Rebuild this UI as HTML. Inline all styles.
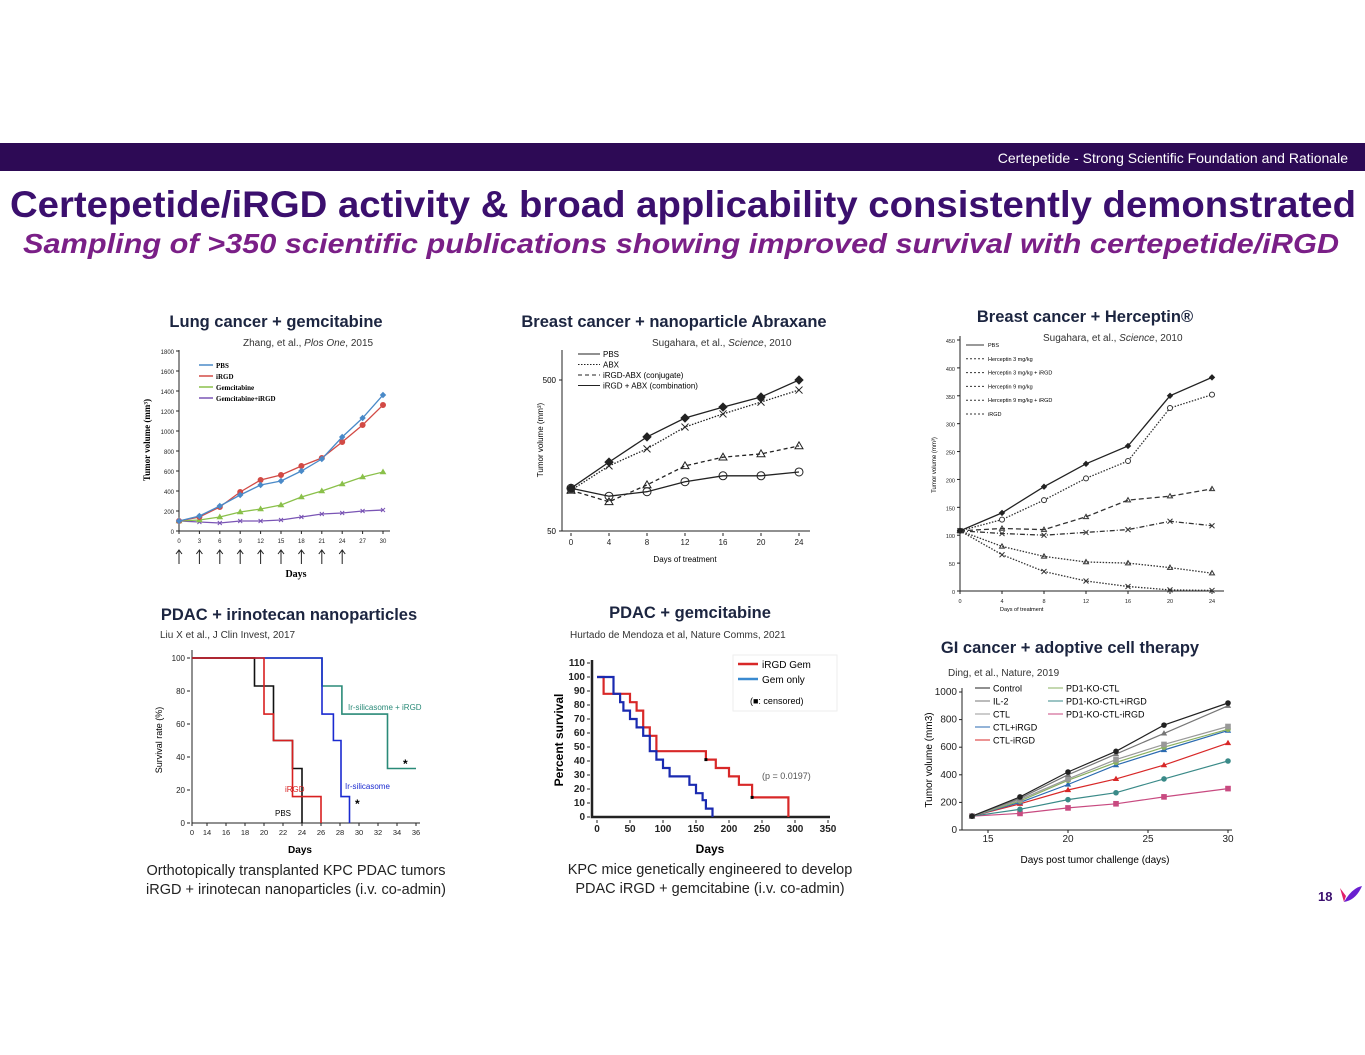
<!DOCTYPE html>
<html><head><meta charset="utf-8"><style>
html,body{margin:0;padding:0;background:#fff;}
svg{display:block;font-family:"Liberation Sans",Arial,sans-serif;}
.t{font-weight:bold;font-size:16.5px;fill:#1c2540;text-anchor:middle;font-family:"Liberation Sans",sans-serif;}
.c{font-size:10px;fill:#333;}
.cap{font-size:14.5px;fill:#222;text-anchor:middle;}
</style></head><body>
<svg id="s" width="1365" height="1055" viewBox="0 0 1365 1055" xmlns="http://www.w3.org/2000/svg">
<rect x="0" y="143" width="1365" height="28" fill="#2d0a55"/>
<text x="1348" y="163" font-size="14" fill="#fff" text-anchor="end">Certepetide - Strong Scientific Foundation and Rationale</text>
<text x="683" y="217" font-size="37" font-weight="bold" fill="#3b0f6e" text-anchor="middle" textLength="1346" lengthAdjust="spacingAndGlyphs">Certepetide/iRGD activity &amp; broad applicability consistently demonstrated</text>
<text x="681" y="253" font-size="28" font-weight="bold" font-style="italic" fill="#7a1f87" text-anchor="middle" textLength="1316" lengthAdjust="spacingAndGlyphs">Sampling of &gt;350 scientific publications showing improved survival with certepetide/iRGD</text>

<text class="t" x="276" y="327">Lung cancer + gemcitabine</text>
<text class="c" x="243" y="346">Zhang, et al., <tspan font-style="italic">Plos One</tspan>, 2015</text>
<text class="t" x="674" y="327">Breast cancer + nanoparticle Abraxane</text>
<text class="c" x="652" y="346">Sugahara, et al., <tspan font-style="italic">Science</tspan>, 2010</text>
<text class="t" x="1085" y="322">Breast cancer + Herceptin®</text>
<text class="c" x="1043" y="341">Sugahara, et al., <tspan font-style="italic">Science</tspan>, 2010</text>
<text class="t" x="289" y="620">PDAC + irinotecan nanoparticles</text>
<text class="c" x="160" y="638">Liu X et al., J Clin Invest, 2017</text>
<text class="t" x="690" y="618">PDAC + gemcitabine</text>
<text class="c" x="570" y="638">Hurtado de Mendoza et al, Nature Comms, 2021</text>
<text class="t" x="1070" y="653">GI cancer + adoptive cell therapy</text>
<text class="c" x="948" y="676">Ding, et al., Nature, 2019</text>

<text class="cap" x="296" y="875">Orthotopically transplanted KPC PDAC tumors</text>
<text class="cap" x="296" y="894">iRGD + irinotecan nanoparticles (i.v. co-admin)</text>
<text class="cap" x="710" y="874">KPC mice genetically engineered to develop</text>
<text class="cap" x="710" y="893">PDAC iRGD + gemcitabine (i.v. co-admin)</text>

<text x="1318" y="901" font-size="13" font-weight="bold" fill="#3b0f6e">18</text>
<g><path d="M1340 888 L1346 896 L1344 902 Z" fill="#e0206a"/><path d="M1344 902 Q1352 888 1362 886 Q1356 900 1344 902 Z" fill="#6a1fd0"/></g>
<g id="g"></g>
</svg>
<script>
// ---------- data ----------
const lungDays=[0,3,6,9,12,15,18,21,24,27,30];
const lungPBS=[100,150,250,360,460,500,600,720,940,1130,1360];
const lungIRGD=[100,140,240,390,510,560,650,730,890,1060,1260];
const lungGem=[100,110,140,190,220,260,340,400,470,540,590];
const lungGemIRGD=[100,90,80,100,100,110,140,170,180,200,210];
const lungYTicks=[0,200,400,600,800,1000,1200,1400,1600,1800];
const lungXTicks=[0,3,6,9,12,15,18,21,24,27,30];

const abxDays=[0,4,8,12,16,20,24];
const abxPBS=[96,143,210,280,331,386,500];
const abxABX=[93,135,175,244,298,357,429];
const abxConj=[93,78,101,135,154,162,183];
const abxComb=[96,85,91,106,116,116,123];
const abxXTicks=[0,4,8,12,16,20,24];

const herDays=[0,4,8,12,16,20,24];
const herPBS=[108,140,187,228,260,350,383];
const herIRGD=[108,128,163,202,233,328,352];
const herH3=[108,80,62,52,50,42,32];
const herH3I=[108,65,35,18,8,2,1];
const herH9=[108,112,110,133,163,170,183];
const herH9I=[108,103,100,105,110,125,117];
const herYTicks=[0,50,100,150,200,250,300,350,400,450];

const irDaysPBS=[0,19,19,21,21,23,23,24,24];
const irPBS=[100,100,83,83,50,50,33,33,0];
const irDaysRed=[0,20,20,21,21,23,23,26,26];
const irRed=[100,100,66,66,50,50,16,16,0];
const irDaysBlue=[0,26.1,26.1,27.3,27.3,28.1,28.1,29,29];
const irBlue=[100,100,66,66,50,50,16,16,0];
const irDaysGreen=[0,26.1,26.1,28.2,28.2,33,33,36];
const irGreen=[100,100,83,83,66,66,33,33];
const irXTicks=[14,16,18,20,22,24,26,28,30,32,34,36];
const irYTicks=[0,20,40,60,80,100];

const gemDaysRed=[0,10,50,60,70,80,90,165,180,200,215,235,290];
const gemRed=[100,88,82,76,64,58,47,41,35,29,23,14,0];
const gemDaysBlue=[0,25,35,40,50,60,70,80,90,100,110,140,150,160,165,175];
const gemBlue=[100,88,82,76,70,64,58,47,41,35,29,23,17,12,6,0];
const gemXTicks=[0,50,100,150,200,250,300,350];
const gemYTicks=[0,10,20,30,40,50,60,70,80,90,100,110];

const giDays=[14,17,20,23,26,30];
const giControl=[100,240,420,570,760,920];
const giIL2=[100,230,400,550,700,900];
const giCTL=[100,220,370,510,620,750];
const giPD1=[100,210,360,490,600,730];
const giCTLi=[100,200,330,470,580,720];
const giCTLr=[100,190,290,370,470,630];
const giPD1i=[100,150,220,270,370,500];
const giPD1r=[100,120,160,190,240,300];
const giXTicks=[15,20,25,30];
const giYTicks=[0,200,400,600,800,1000];

// ---------- helpers ----------
const NS="http://www.w3.org/2000/svg";
const G=document.getElementById('g');
function mk(tag,a,p){const e=document.createElementNS(NS,tag);for(const k in a)e.setAttribute(k,a[k]);(p||G).appendChild(e);return e;}
function lin(d0,d1,r0,r1){return v=>r0+(v-d0)*(r1-r0)/(d1-d0);}
function lg(d0,d1,r0,r1){return v=>r0+(Math.log10(v)-Math.log10(d0))*(r1-r0)/(Math.log10(d1)-Math.log10(d0));}
function line(xs,ys,X,Y,col,name,dash,w){
  const d=xs.map((x,i)=>(i?'L':'M')+X(x).toFixed(1)+' '+Y(ys[i]).toFixed(1)).join(' ');
  const p=mk('path',{d:d,fill:'none',stroke:col,'stroke-width':w||1.3,'stroke-dasharray':dash||'none'});
  
  
  return p;
}
function pts(xs,ys,X,Y,col,name,shape,r,fill){
  xs.forEach((x,i)=>{
    let e;
    if(shape==='s') e=mk('rect',{x:X(x)-r,y:Y(ys[i])-r,width:2*r,height:2*r,fill:fill||col,stroke:col});
    else if(shape==='d') e=mk('path',{d:`M${X(x)} ${Y(ys[i])-r}l${r} ${r}l${-r} ${r}l${-r} ${-r}z`,fill:fill||col,stroke:col});
    else if(shape==='t') e=mk('path',{d:`M${X(x)} ${Y(ys[i])-r}l${r} ${1.7*r}h${-2*r}z`,fill:fill||col,stroke:col});
    else if(shape==='x') e=mk('path',{d:`M${X(x)-r} ${Y(ys[i])-r}l${2*r} ${2*r}M${X(x)+r} ${Y(ys[i])-r}l${-2*r} ${2*r}`,stroke:col,fill:'none'});
    else e=mk('circle',{cx:X(x),cy:Y(ys[i]),r:r,fill:fill||col,stroke:col});
    
    
  });
}
function txt(x,y,s,a){const e=mk('text',Object.assign({x:x,y:y},a||{}));e.textContent=s;return e;}
function axes(x0,y0,x1,y1,name){
  const e=mk('path',{d:`M${x0} ${y1}V${y0}H${x1}`,fill:'none',stroke:'#222','stroke-width':1});
  
  
}
function xt(ticks,X,y,cls,fs,lab){ticks.forEach(t=>{mk('line',{x1:X(t),x2:X(t),y1:y,y2:y+3,stroke:'#222'});const e=txt(X(t),y+12,lab?lab(t):t,{'font-size':fs,'text-anchor':'middle',fill:'#222'});});}
function yt(ticks,Y,x,fs){ticks.forEach(t=>{mk('line',{x1:x-3,x2:x,y1:Y(t),y2:Y(t),stroke:'#222'});const e=txt(x-5,Y(t)+3,t,{'font-size':fs,'text-anchor':'end',fill:'#222'});});}

// ---------- 1 Lung ----------
{const X=lin(0,30,179,383),Y=lin(0,1800,531,351);
axes(179,531,390,350,'lung-axes');
yt(lungYTicks,Y,179,6);xt(lungXTicks,X,531,'',6);
txt(150,440,'Tumor volume (mm³)',{'font-size':9,'font-weight':'bold','font-family':'Liberation Serif',transform:'rotate(-90 150 440)','text-anchor':'middle'});
[0,3,6,9,12,15,18,21,24].forEach(d=>{mk('path',{d:`M${X(d)} 564V550M${X(d)-3} 554L${X(d)} 550L${X(d)+3} 554`,stroke:'#222',fill:'none'});});
txt(296,577,'Days',{'font-size':10,'font-weight':'bold','font-family':'Liberation Serif','text-anchor':'middle'});
line(lungDays,lungGemIRGD,X,Y,'#7a55b5','lung-gem-irgd-line');pts(lungDays,lungGemIRGD,X,Y,'#7a55b5','lung-gem-irgd','x',2);
line(lungDays,lungGem,X,Y,'#8ac04a','lung-gem-line');pts(lungDays,lungGem,X,Y,'#8ac04a','lung-gem','t',2.5);
line(lungDays,lungIRGD,X,Y,'#d24a45','lung-irgd-line');pts(lungDays,lungIRGD,X,Y,'#d24a45','lung-irgd','c',2.5);
line(lungDays,lungPBS,X,Y,'#4a8ac8','lung-pbs-line');pts(lungDays,lungPBS,X,Y,'#4a8ac8','lung-pbs','d',2.5);
[['PBS','#4a8ac8'],['iRGD','#d24a45'],['Gemcitabine','#8ac04a'],['Gemcitabine+iRGD','#7a55b5']].forEach((l,i)=>{const y=365+i*11;mk('line',{x1:199,x2:213,y1:y,y2:y,stroke:l[1],'stroke-width':1.5});const e=txt(216,y+3,l[0],{'font-size':7,'font-family':'Liberation Serif','font-weight':'bold'});});}

// ---------- 2 Abraxane ----------
{const X=lin(0,24,571,799),Y=lg(50,500,531,380);
axes(562,531,810,350,'abraxane-axes');
xt(abxXTicks,X,533,'',8);
[50,500].forEach(t=>{mk('line',{x1:559,x2:562,y1:Y(t),y2:Y(t),stroke:'#222'});txt(556,Y(t)+3,t,{'font-size':8,'text-anchor':'end'});});
txt(543,440,'Tumor volume (mm³)',{'font-size':8,transform:'rotate(-90 543 440)','text-anchor':'middle'});
txt(685,562,'Days of treatment',{'font-size':8,'text-anchor':'middle'});
line(abxDays,abxComb,X,Y,'#222','abx-comb-line');pts(abxDays,abxComb,X,Y,'#222','abx-comb','c',4,'none');
line(abxDays,abxConj,X,Y,'#222','abx-conj-line','4 3');pts(abxDays,abxConj,X,Y,'#222','abx-conj','t',4,'none');
line(abxDays,abxABX,X,Y,'#222','abx-abx-line','1.5 1.5');pts(abxDays,abxABX,X,Y,'#222','abx-abx','x',3.5);
line(abxDays,abxPBS,X,Y,'#222','abx-pbs-line');pts(abxDays,abxPBS,X,Y,'#222','abx-pbs','d',4);
[['PBS',''],['ABX','1.5 1.5'],['iRGD-ABX (conjugate)','4 3'],['iRGD + ABX (combination)','']].forEach((l,i)=>{const y=354+i*10.5;mk('line',{x1:578,x2:600,y1:y,y2:y,stroke:'#222','stroke-dasharray':l[1]||'none'});const e=txt(603,y+3,l[0],{'font-size':8});});}

// ---------- 3 Herceptin ----------
{const X=lin(0,24,960,1212),Y=lin(0,450,591,340);
axes(960,591,1224,336,'herceptin-axes');
yt(herYTicks,Y,960,5.5);xt(abxXTicks,X,591,'',5.5);
txt(936,465,'Tumor volume (mm³)',{'font-size':6,transform:'rotate(-90 936 465)','text-anchor':'middle'});
txt(1000,611,'Days of treatment',{'font-size':5.5});
line(herDays,herH3I,X,Y,'#333','her-h3i-line','1.5 1.5');pts(herDays,herH3I,X,Y,'#333','her-h3i','x',2.5);
line(herDays,herH3,X,Y,'#333','her-h3-line','1.5 1.5');pts(herDays,herH3,X,Y,'#333','her-h3','t',2.5,'none');
line(herDays,herH9I,X,Y,'#333','her-h9i-line','5 2 1 2');pts(herDays,herH9I,X,Y,'#333','her-h9i','x',2.5);
line(herDays,herH9,X,Y,'#333','her-h9-line','5 3');pts(herDays,herH9,X,Y,'#333','her-h9','t',2.5,'none');
line(herDays,herIRGD,X,Y,'#333','her-irgd-line','1.5 1.5');pts(herDays,herIRGD,X,Y,'#333','her-irgd','c',2.5,'#fff');
line(herDays,herPBS,X,Y,'#222','her-pbs-line');pts(herDays,herPBS,X,Y,'#222','her-pbs','d',2.5);
['PBS','Herceptin 3 mg/kg','Herceptin 3 mg/kg + iRGD','Herceptin 9 mg/kg','Herceptin 9 mg/kg + iRGD','iRGD'].forEach((l,i)=>{const y=345+i*13.8;mk('line',{x1:966,x2:984,y1:y,y2:y,stroke:'#333','stroke-dasharray':i?'2 2':'none'});const e=txt(988,y+2,l,{'font-size':5.5});});}

// ---------- 4 Irinotecan ----------
{const X=d=>d<14?192+d*(15/14):207+(d-14)*9.5,Y=lin(0,100,823,658);
axes(192,823,420,650,'irinotecan-axes');
yt(irYTicks,Y,190,8);xt([0].concat(irXTicks),X,823,'',7.5);
txt(162,740,'Survival rate (%)',{'font-size':9,transform:'rotate(-90 162 740)','text-anchor':'middle'});
txt(300,853,'Days',{'font-size':10,'font-weight':'bold','text-anchor':'middle'});
line(irDaysGreen,irGreen,X,Y,'#2a8a78','ir-green-line','',1.6);
line(irDaysBlue,irBlue,X,Y,'#1a2ad0','ir-blue-line','',1.6);
line(irDaysPBS,irPBS,X,Y,'#111','ir-pbs-line','',1.6);
line(irDaysRed,irRed,X,Y,'#d82020','ir-red-line','',1.6);
txt(348,710,'Ir-silicasome + iRGD',{'font-size':8,fill:'#2a8a78'});
txt(345,789,'Ir-silicasome',{'font-size':8,fill:'#1a2ad0'});
txt(285,792,'iRGD',{'font-size':8,fill:'#d82020'});
txt(275,816,'PBS',{'font-size':8});
txt(403,768,'*',{'font-size':12,'font-weight':'bold'});txt(355,808,'*',{'font-size':12,'font-weight':'bold'});}

// ---------- 5 Gemcitabine ----------
{const X=lin(0,350,597,828),Y=lin(0,110,817,663);
mk('path',{d:'M592 660V817H830',stroke:'#222','stroke-width':2.5,fill:'none'});
yt(gemYTicks,Y,590,10);xt(gemXTicks,X,820,'',10);
[...document.querySelectorAll('#g text')].slice(-20).forEach(e=>e.setAttribute('font-weight','bold'));
txt(563,740,'Percent survival',{'font-size':12,'font-weight':'bold',transform:'rotate(-90 563 740)','text-anchor':'middle'});
txt(710,853,'Days',{'font-size':12,'font-weight':'bold','text-anchor':'middle'});
const st=(xs,ys)=>{const a=[],b=[];xs.forEach((x,i)=>{if(i){a.push(x);b.push(ys[i-1]);}a.push(x);b.push(ys[i]);});return[a,b];};
const r=st(gemDaysRed,gemRed),b=st(gemDaysBlue,gemBlue);
line(r[0],r[1],X,Y,'#d82828','gem-irgd-line','',2.2);
line(b[0],b[1],X,Y,'#1a2ab0','gem-only-line','',2.2);
mk('rect',{x:X(165)-1.5,y:Y(41)-1.5,width:3,height:3,fill:'#000'});mk('rect',{x:X(235)-1.5,y:Y(14)-1.5,width:3,height:3,fill:'#000'});
mk('rect',{x:733,y:655,width:104,height:56,fill:'none',stroke:'#eee'});
mk('line',{x1:738,x2:758,y1:664,y2:664,stroke:'#d82828','stroke-width':2.5});txt(762,668,'iRGD Gem',{'font-size':10});
mk('line',{x1:738,x2:758,y1:679,y2:679,stroke:'#3a8ad0','stroke-width':2.5});txt(762,683,'Gem only',{'font-size':10});
txt(750,704,'(■: censored)',{'font-size':9});txt(762,779,'(p = 0.0197)',{'font-size':9,fill:'#555'});}

// ---------- 6 GI ----------
{const X=lin(15,30,988,1228),Y=lin(0,1000,830,692);
axes(962,830,1232,688,'gi-axes');
yt(giYTicks,Y,962,10);xt(giXTicks,X,830,'',10);
txt(932,760,'Tumor volume (mm3)',{'font-size':10,transform:'rotate(-90 932 760)','text-anchor':'middle'});
txt(1095,863,'Days post tumor challenge (days)',{'font-size':10,'text-anchor':'middle'});
const S=[[giPD1r,'#c84a80','s','PD1-KO-CTL-iRGD'],[giPD1i,'#3a8a88','c','PD1-KO-CTL+iRGD'],[giCTLr,'#d82828','t','CTL-iRGD'],[giCTLi,'#2a6ab0','t','CTL+iRGD'],[giPD1,'#8ab060','c','PD1-KO-CTL'],[giCTL,'#999','s','CTL'],[giIL2,'#777','t','IL-2'],[giControl,'#222','c','Control']];
S.forEach(s=>{line(giDays,s[0],X,Y,s[1],'gi-'+s[3].toLowerCase().replace(/[^a-z0-9]+/g,'-')+'-line','',1.2);pts(giDays,s[0],X,Y,s[1],'gi-'+s[3].toLowerCase().replace(/[^a-z0-9]+/g,'-'),s[2],2.3);});
[['Control','#222'],['IL-2','#777'],['CTL','#999'],['CTL+iRGD','#2a6ab0'],['CTL-iRGD','#d82828']].forEach((l,i)=>{const y=688+i*13;mk('line',{x1:975,x2:990,y1:y,y2:y,stroke:l[1]});const e=txt(993,y+3.5,l[0],{'font-size':9});});
[['PD1-KO-CTL','#8ab060'],['PD1-KO-CTL+iRGD','#3a8a88'],['PD1-KO-CTL-iRGD','#c84a80']].forEach((l,i)=>{const y=688+i*13;mk('line',{x1:1048,x2:1063,y1:y,y2:y,stroke:l[1]});const e=txt(1066,y+3.5,l[0],{'font-size':9});});}
</script>
</body></html>
